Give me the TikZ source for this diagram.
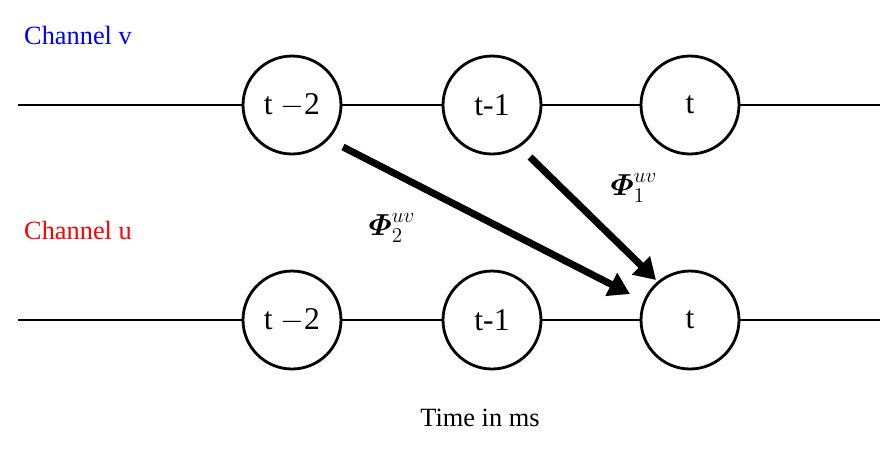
\documentclass[tikz,border=0pt]{standalone}
\usepackage{amsmath}
\usepackage{fontspec}
\setmainfont{Liberation Serif}
\usetikzlibrary{arrows.meta}
\begin{document}
\begin{tikzpicture}[x=0.02cm,y=-0.02cm,
  tn/.style={circle,draw,line width=1.6pt,fill=white,minimum size=1.96cm,inner sep=0pt,font=\fontsize{18}{21}\selectfont},
  ln/.style={line width=1.6pt},
  ar/.style={line width=4pt,-{Triangle[length=12pt,width=14pt]}},
  lab/.style={font=\fontsize{15}{18}\selectfont},
  phil/.style={font=\fontsize{18}{21}\selectfont}]
\useasboundingbox (0,0) rectangle (893,458);
\coordinate (vl) at (18,105); \coordinate (vr) at (880,105);
\coordinate (ul) at (18,320); \coordinate (ur) at (880,320);
\draw[ln] (vl) -- (vr);
\draw[ln] (ul) -- (ur);
\node[tn] (v2) at (292,105) {t $-$2};
\node[tn] (v1) at (492,105) {t-1};
\node[tn] (v0) at (690,105) {t};
\node[tn] (u2) at (292,320) {t $-$2};
\node[tn] (u1) at (492,320) {t-1};
\node[tn] (u0) at (690,320) {t};
\coordinate (a1s) at (343,147); \coordinate (a1e) at (630,294);
\coordinate (a2s) at (530,157); \coordinate (a2e) at (656,280);
\draw[ar] (a1s) -- (a1e);
\draw[ar] (a2s) -- (a2e);
\node[phil] (p2) at (392,228) {$\boldsymbol{\varPhi}_2^{uv}$};
\node[phil] (p1) at (634,188) {$\boldsymbol{\varPhi}_1^{uv}$};
\node[lab,text=blue,anchor=west] (cv) at (18,35) {Channel v};
\node[lab,text=red,anchor=west] (cu) at (18,230) {Channel u};
\node[lab] (tm) at (480,418) {Time in ms};
\end{tikzpicture}
\end{document}
